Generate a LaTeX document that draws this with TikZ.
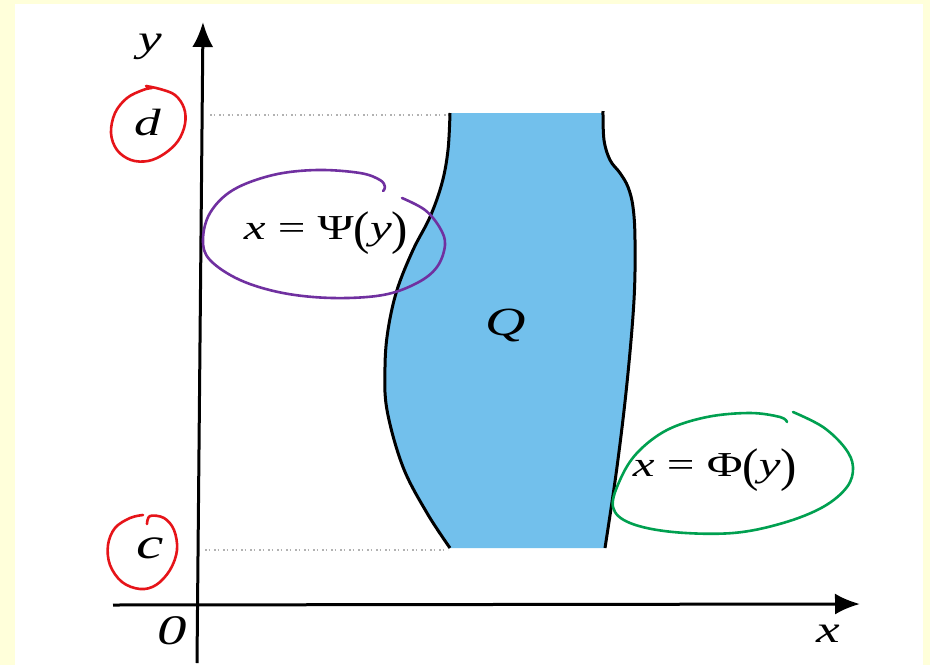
\documentclass[tikz,border=0pt]{standalone}
\usepackage{fontspec}
\setmainfont{Liberation Serif}
\usepackage{graphicx}
\usetikzlibrary{arrows.meta}
\definecolor{bgyellow}{RGB}{255,255,218}
\definecolor{qblue}{RGB}{114,192,236}
\definecolor{penred}{RGB}{230,20,25}
\definecolor{penpurple}{RGB}{112,48,160}
\definecolor{pengreen}{RGB}{0,160,80}
\newcommand\wide[1]{\scalebox{1.4}[1]{#1}}
\newcommand\tallp[1]{\raisebox{-0.14em}{\scalebox{1}[1.35]{#1}}}
\begin{document}
\begin{tikzpicture}[x=1pt,y=-1pt,
  axisline/.style={line width=3pt,-{Latex[length=25pt,width=21pt]}},
  dotline/.style={gray!60,line width=1.3pt,dash pattern=on 1.5pt off 2pt on 1.5pt off 4pt},
  boundary/.style={line width=3pt,black},
  pen/.style={line width=2.6pt,line cap=round,line join=round},
  lab/.style={inner sep=0pt,font=\fontsize{38}{38}\selectfont},
  formula/.style={inner sep=0pt,font=\fontsize{35}{35}\selectfont}]
\useasboundingbox (0,0) rectangle (930,665);
\fill[bgyellow] (0,0) rectangle (930,665);
\fill[white] (15,4) rectangle (923,665);
% dotted guides
\coordinate (dL) at (210,115);
\coordinate (dR) at (448,115);
\coordinate (cL) at (205,550);
\coordinate (cR) at (448,550);
\draw[dotline] (dL) -- (dR);
\draw[dotline] (cL) -- (cR);
% region Q
\fill[qblue] plot[smooth,tension=0.6] coordinates {(450,113) (448,150) (442,183) (430,217) (413,250) (397,290) (388,330) (385,367) (387,410) (403,467) (427,513) (450,548)}
  -- plot[smooth,tension=0.6] coordinates {(605,548) (617,467) (627,383) (634,300) (635,240) (633,207) (628,187) (620,173) (610,160) (604,140) (603,113)} -- cycle;
\draw[boundary] plot[smooth,tension=0.6] coordinates {(450,113) (448,150) (442,183) (430,217) (413,250) (397,290) (388,330) (385,367) (387,410) (403,467) (427,513) (450,548)};
\draw[boundary] plot[smooth,tension=0.6] coordinates {(605,548) (617,467) (627,383) (634,300) (635,240) (633,207) (628,187) (620,173) (610,160) (604,140) (603,111)};
% axes
\coordinate (yB) at (197,663);
\coordinate (yT) at (203,22);
\coordinate (xL) at (113,605);
\coordinate (xR) at (860,604);
\draw[axisline] (yB) -- (yT);
\draw[axisline] (xL) -- (xR);
% labels
\node[lab] (ylab) at (150,47) {\wide{\textit{y}}};
\node[lab] (xlab) at (828,634) {\wide{\textit{x}}};
\node[lab,font=\fontsize{42}{42}\selectfont] (olab) at (172,631) {\wide{\textit{0}}};
\node[lab] (dlab) at (148,123) {\wide{\textit{d}}};
\node[lab,font=\fontsize{44}{44}\selectfont] (clab) at (150,548) {\wide{\textit{c}}};
\node[lab,font=\fontsize{40}{40}\selectfont] (qlab) at (506,325) {\wide{\textit{Q}}};
\node[formula] (psi) at (326,233) {\wide{\textit{x} = Ψ\tallp{(}\textit{y}\tallp{)}}};
\node[formula] (phi) at (715,470) {\wide{\textit{x} = Φ\tallp{(}\textit{y}\tallp{)}}};
% hand-drawn marks
\draw[pen,penred] plot[smooth,tension=0.6] coordinates {(146,86) (160,89) (175,95) (184,108) (185,124) (178,141) (164,154) (148,161) (131,160) (117,150) (111,133) (115,113) (127,98) (143,90) (152,88)};
\draw[pen,penred] plot[smooth,tension=0.6] coordinates {(147,524) (150,516) (164,518) (174,530) (177,550) (170,570) (156,585) (140,589) (122,582) (110,565) (108,545) (115,528) (130,518) (143,515)};
\draw[pen,penpurple] plot[smooth,tension=0.6] coordinates {(402,198) (425,210) (440,228) (445,245) (437,267) (417,283) (383,295) (333,298) (283,293) (240,280) (210,260) (203,240) (210,213) (233,190) (273,175) (317,170) (360,173) (380,180) (385,187) (383,191)};
\draw[pen,pengreen] plot[smooth,tension=0.6] coordinates {(793,412) (823,427) (845,448) (853,467) (847,487) (823,507) (783,523) (733,533) (673,532) (630,523) (613,507) (620,480) (637,453) (667,430) (707,417) (750,413) (780,417) (787,422)};
\end{tikzpicture}
\end{document}
